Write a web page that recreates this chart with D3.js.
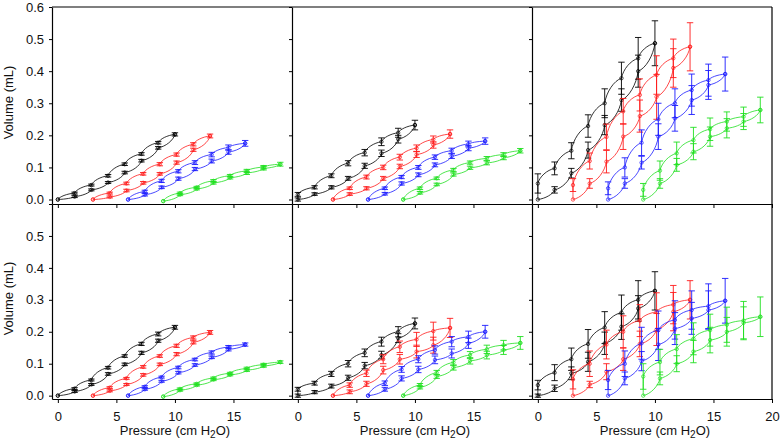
<!DOCTYPE html>
<html><head><meta charset="utf-8">
<script src="https://cdn.jsdelivr.net/npm/d3@7"></script>
<style>body{margin:0;background:#fff} svg{display:block} text{font-family:Arial,"Liberation Sans",sans-serif;}</style>
</head><body><svg id="c" width="780" height="445"></svg>
<script>
const seriesColors = ["#000000", "#ff1a1a", "#1a1aff", "#1fe01f"];
const startPressures = [0, 3, 6, 9];
const pressureOffsets = [0, 1.43, 2.86, 4.29, 5.71, 7.14, 8.57, 10];
const xTickValues = [0, 5, 10, 15];
const xTickValuesRight = [0, 5, 10, 15, 20];
const yTickValues = [0, 0.1, 0.2, 0.3, 0.4, 0.5, 0.6];
const yTickLabelsTop = ["0.0", "0.1", "0.2", "0.3", "0.4", "0.5", "0.6"];
const yTickLabelsBottom = ["0.0", "0.1", "0.2", "0.3", "0.4", "0.5", ""];

// Panel A (top-left): inflation (lower) and deflation (upper) volumes, per series black/red/blue/green
const A_inf = [
  [0, 0.009, 0.03, 0.053, 0.084, 0.121, 0.161, 0.203],
  [0, 0.008, 0.028, 0.052, 0.08, 0.115, 0.155, 0.198],
  [0, 0.015, 0.038, 0.065, 0.095, 0.12, 0.148, 0.175],
  [-0.005, 0.015, 0.033, 0.052, 0.068, 0.083, 0.097, 0.11]];
const A_def = [
  [0, 0.02, 0.045, 0.074, 0.11, 0.142, 0.177, 0.203],
  [0, 0.02, 0.05, 0.08, 0.11, 0.14, 0.172, 0.198],
  [0, 0.025, 0.058, 0.088, 0.115, 0.14, 0.162, 0.175],
  [-0.005, 0.02, 0.038, 0.058, 0.074, 0.089, 0.101, 0.11]];
const A_infErr = [
  [0, 0.003, 0.003, 0.003, 0.004, 0.004, 0.004, 0.005],
  [0, 0.003, 0.004, 0.004, 0.004, 0.005, 0.005, 0.006],
  [0, 0.004, 0.004, 0.005, 0.005, 0.006, 0.007, 0.009],
  [0, 0.003, 0.003, 0.004, 0.004, 0.005, 0.005, 0.006]];
const A_defErr = [
  [0, 0.003, 0.003, 0.004, 0.004, 0.004, 0.004, 0],
  [0, 0.003, 0.004, 0.004, 0.005, 0.005, 0.005, 0],
  [0, 0.004, 0.005, 0.005, 0.006, 0.007, 0.008, 0],
  [0, 0.003, 0.003, 0.004, 0.004, 0.005, 0.005, 0]];

// Panel B (top-middle)
const B_inf = [
  [0, 0.017, 0.038, 0.066, 0.105, 0.144, 0.188, 0.232],
  [0, 0.017, 0.035, 0.066, 0.103, 0.14, 0.17, 0.204],
  [0, 0.018, 0.05, 0.077, 0.108, 0.135, 0.16, 0.182],
  [0, 0.021, 0.047, 0.078, 0.099, 0.114, 0.13, 0.152]];
const B_def = [
  [0.016, 0.038, 0.074, 0.113, 0.146, 0.18, 0.208, 0.232],
  [0, 0.035, 0.07, 0.1, 0.132, 0.16, 0.187, 0.204],
  [0, 0.035, 0.07, 0.1, 0.132, 0.152, 0.173, 0.182],
  [0, 0.035, 0.066, 0.092, 0.115, 0.128, 0.14, 0.152]];
const B_infErr = [
  [0.005, 0.004, 0.005, 0.006, 0.008, 0.01, 0.012, 0.015],
  [0, 0.004, 0.005, 0.006, 0.007, 0.009, 0.01, 0.013],
  [0, 0.004, 0.005, 0.006, 0.006, 0.007, 0.008, 0.01],
  [0, 0.004, 0.004, 0.005, 0.005, 0.006, 0.006, 0.007]];
const B_defErr = [
  [0.006, 0.005, 0.006, 0.008, 0.01, 0.012, 0.014, 0],
  [0, 0.004, 0.006, 0.007, 0.009, 0.01, 0.011, 0],
  [0, 0.004, 0.005, 0.006, 0.007, 0.008, 0.009, 0],
  [0, 0.004, 0.004, 0.005, 0.005, 0.006, 0.006, 0]];

// Panel C (top-right)
const C_inf = [
  [0, 0.03, 0.082, 0.154, 0.232, 0.31, 0.4, 0.487],
  [0, 0.05, 0.118, 0.196, 0.26, 0.32, 0.41, 0.476],
  [0, 0.05, 0.115, 0.196, 0.253, 0.31, 0.357, 0.391],
  [0, 0.05, 0.108, 0.149, 0.196, 0.222, 0.243, 0.279]];
const C_def = [
  [0.05, 0.097, 0.152, 0.229, 0.3, 0.378, 0.44, 0.487],
  [0.045, 0.12, 0.195, 0.275, 0.326, 0.388, 0.44, 0.476],
  [0.035, 0.1, 0.177, 0.25, 0.3, 0.341, 0.372, 0.391],
  [0.03, 0.09, 0.144, 0.185, 0.219, 0.243, 0.258, 0.279]];
const C_infErr = [
  [0, 0.01, 0.015, 0.025, 0.03, 0.035, 0.05, 0.07],
  [0, 0.015, 0.035, 0.04, 0.05, 0.07, 0.06, 0.075],
  [0, 0.015, 0.02, 0.04, 0.04, 0.045, 0.045, 0.053],
  [0, 0.015, 0.02, 0.025, 0.03, 0.03, 0.025, 0.04]];
const C_defErr = [
  [0.03, 0.02, 0.025, 0.035, 0.045, 0.05, 0.065, 0],
  [0.02, 0.025, 0.04, 0.04, 0.05, 0.06, 0.06, 0],
  [0.02, 0.03, 0.04, 0.05, 0.045, 0.05, 0.05, 0],
  [0.02, 0.03, 0.035, 0.04, 0.035, 0.03, 0.03, 0]];

// Panel D (bottom-left)
const D_inf = [
  [0, 0.013, 0.035, 0.068, 0.098, 0.134, 0.172, 0.214],
  [0, 0.015, 0.035, 0.065, 0.098, 0.13, 0.167, 0.198],
  [0, 0.02, 0.045, 0.072, 0.096, 0.12, 0.145, 0.16],
  [-0.003, 0.017, 0.033, 0.05, 0.065, 0.08, 0.093, 0.105]];
const D_def = [
  [0, 0.022, 0.049, 0.0875, 0.124, 0.162, 0.193, 0.214],
  [0, 0.025, 0.054, 0.09, 0.124, 0.156, 0.182, 0.198],
  [0, 0.028, 0.058, 0.088, 0.113, 0.135, 0.152, 0.16],
  [-0.003, 0.021, 0.037, 0.055, 0.07, 0.085, 0.097, 0.105]];
const D_infErr = [
  [0, 0.003, 0.003, 0.004, 0.004, 0.005, 0.005, 0.006],
  [0, 0.003, 0.003, 0.004, 0.004, 0.005, 0.005, 0.006],
  [0, 0.003, 0.003, 0.004, 0.004, 0.004, 0.005, 0.005],
  [0, 0.003, 0.003, 0.003, 0.003, 0.004, 0.004, 0.004]];
const D_defErr = [
  [0, 0.003, 0.003, 0.004, 0.004, 0.005, 0.006, 0],
  [0, 0.003, 0.003, 0.004, 0.004, 0.005, 0.005, 0],
  [0, 0.003, 0.003, 0.004, 0.004, 0.005, 0.005, 0],
  [0, 0.003, 0.003, 0.003, 0.003, 0.004, 0.004, 0]];

// Panel E (bottom-middle)
const E_inf = [
  [0, 0.011, 0.03, 0.056, 0.094, 0.127, 0.18, 0.226],
  [0, 0.012, 0.037, 0.08, 0.114, 0.138, 0.158, 0.212],
  [0, 0.02, 0.054, 0.082, 0.112, 0.132, 0.164, 0.2],
  [0, 0.026, 0.06, 0.088, 0.109, 0.127, 0.143, 0.165]];
const E_def = [
  [0.02, 0.039, 0.068, 0.1, 0.134, 0.169, 0.2, 0.226],
  [0, 0.033, 0.07, 0.114, 0.153, 0.176, 0.202, 0.212],
  [0, 0.039, 0.082, 0.114, 0.143, 0.169, 0.184, 0.2],
  [0, 0.033, 0.072, 0.104, 0.127, 0.145, 0.158, 0.165]];
const E_infErr = [
  [0.005, 0.005, 0.006, 0.008, 0.01, 0.012, 0.014, 0.017],
  [0, 0.006, 0.008, 0.012, 0.015, 0.02, 0.025, 0.03],
  [0, 0.006, 0.008, 0.01, 0.012, 0.014, 0.016, 0.02],
  [0, 0.005, 0.006, 0.008, 0.01, 0.012, 0.014, 0.02]];
const E_defErr = [
  [0.006, 0.006, 0.008, 0.01, 0.012, 0.014, 0.016, 0],
  [0, 0.007, 0.01, 0.014, 0.018, 0.022, 0.028, 0],
  [0, 0.007, 0.009, 0.011, 0.013, 0.016, 0.018, 0],
  [0, 0.005, 0.007, 0.009, 0.011, 0.013, 0.015, 0]];

// Panel F (bottom-right)
const F_inf = [
  [0, 0.023, 0.07, 0.106, 0.164, 0.216, 0.273, 0.328],
  [0, 0.035, 0.075, 0.114, 0.162, 0.207, 0.263, 0.3],
  [0, 0.054, 0.108, 0.16, 0.21, 0.242, 0.268, 0.297],
  [0, 0.054, 0.1, 0.138, 0.174, 0.2, 0.228, 0.247]];
const F_def = [
  [0.033, 0.072, 0.114, 0.162, 0.213, 0.26, 0.3, 0.328],
  [0.051, 0.1, 0.16, 0.2, 0.235, 0.262, 0.285, 0.3],
  [0.049, 0.1, 0.164, 0.205, 0.237, 0.268, 0.28, 0.297],
  [0.06, 0.105, 0.146, 0.178, 0.205, 0.222, 0.235, 0.247]];
const F_infErr = [
  [0.005, 0.01, 0.02, 0.03, 0.035, 0.04, 0.04, 0.06],
  [0, 0.01, 0.025, 0.035, 0.04, 0.05, 0.06, 0.06],
  [0, 0.02, 0.03, 0.05, 0.05, 0.05, 0.06, 0.07],
  [0, 0.02, 0.025, 0.035, 0.04, 0.045, 0.05, 0.062]];
const F_defErr = [
  [0.015, 0.025, 0.035, 0.045, 0.05, 0.055, 0.06, 0],
  [0.03, 0.04, 0.045, 0.05, 0.05, 0.06, 0.06, 0],
  [0.03, 0.04, 0.05, 0.06, 0.06, 0.06, 0.07, 0],
  [0.04, 0.04, 0.045, 0.05, 0.05, 0.055, 0.06, 0]];

const panels = [
  {inf: A_inf, def: A_def, ie: A_infErr, de: A_defErr, col: 0, row: 0},
  {inf: B_inf, def: B_def, ie: B_infErr, de: B_defErr, col: 1, row: 0},
  {inf: C_inf, def: C_def, ie: C_infErr, de: C_defErr, col: 2, row: 0},
  {inf: D_inf, def: D_def, ie: D_infErr, de: D_defErr, col: 0, row: 1},
  {inf: E_inf, def: E_def, ie: E_infErr, de: E_defErr, col: 1, row: 1},
  {inf: F_inf, def: F_def, ie: F_infErr, de: F_defErr, col: 2, row: 1}
];

const svg = d3.select("#c");
const colX = [52, 292, 532];
const panelW = 240;
const rows = [
  {top: 7, bottom: 204, dom: [-0.014, 0.6]},
  {top: 204, bottom: 399, dom: [-0.0105, 0.6]}
];

function curvePath(xs, ys, kind) {
  const p = d3.path();
  p.moveTo(xs[0], ys[0]);
  for (let i = 1; i < xs.length; i++) {
    const x0 = xs[i-1], y0 = ys[i-1], x1 = xs[i], y1 = ys[i];
    const dx = x1 - x0, dy = y1 - y0;
    let c1x, c1y, c2x, c2y;
    if (kind === "inf") {
      c1x = x0 + 0.45*dx; c1y = y0 + 0.1*dy; c2x = x1 - 0.1*dx; c2y = y1 - 0.45*dy;
    } else {
      c1x = x0 + 0.1*dx; c1y = y0 + 0.45*dy; c2x = x1 - 0.45*dx; c2y = y1 - 0.1*dy;
    }
    p.bezierCurveTo(c1x, c1y, c2x, c2y, x1, y1);
  }
  return p.toString();
}

panels.forEach(pn => {
  const r = rows[pn.row];
  const x0 = colX[pn.col];
  const x = d3.scaleLinear().domain([-0.5, 20]).range([x0, x0 + panelW]);
  const y = d3.scaleLinear().domain(r.dom).range([r.bottom, r.top]);
  const g = svg.append("g");

  const ya = d3.axisLeft(y).tickValues(yTickValues).tickSize(3).tickSizeOuter(0).tickPadding(5)
    .tickFormat((d, i) => pn.col === 0 ? (pn.row === 0 ? yTickLabelsTop[i] : yTickLabelsBottom[i]) : "");
  const yg = g.append("g").attr("transform", `translate(${x0},0)`).call(ya);
  const xa = d3.axisBottom(x).tickValues(pn.col === 2 ? xTickValuesRight : xTickValues).tickSize(4).tickSizeOuter(0).tickPadding(9)
    .tickFormat(d => pn.row === 1 ? String(d) : "");
  const xg = g.append("g").attr("transform", `translate(0,${r.bottom})`).call(xa);
  [yg, xg].forEach(ax => {
    ax.selectAll("path.domain").attr("stroke", "#000").attr("stroke-width", 1.2);
    ax.selectAll(".tick line").attr("stroke", "#000");
    ax.selectAll("text").attr("font-size", 13).attr("fill", "#111")
      .style("font-family", "Arial, 'Liberation Sans', sans-serif");
  });
  if (pn.row === 0) {
    g.append("line").attr("x1", x0).attr("x2", x0 + panelW).attr("y1", r.top).attr("y2", r.top)
      .attr("stroke", "#000").attr("stroke-width", 1.2);
  }
  if (pn.col === 2) {
    g.append("line").attr("x1", x0 + panelW).attr("x2", x0 + panelW).attr("y1", r.top).attr("y2", r.bottom)
      .attr("stroke", "#000").attr("stroke-width", 1.2);
  }
  if (pn.row === 1) {
    g.append("text").attr("x", x(10)).attr("y", 435).attr("text-anchor", "middle").attr("font-size", 13).attr("fill", "#111")
      .call(t => {
        t.append("tspan").text("Pressure (cm H");
        t.append("tspan").attr("font-size", 10).attr("dy", 3).text("2");
        t.append("tspan").attr("dy", -3).text("O)");
      });
  }
  if (pn.col === 0) {
    g.append("text").attr("transform", `translate(13,${(r.top + r.bottom) / 2 - 3}) rotate(-90)`)
      .attr("text-anchor", "middle").attr("font-size", 13).attr("fill", "#111").text("Volume (mL)");
  }

  for (let s = 0; s < 4; s++) {
    const col = seriesColors[s];
    const ps = pressureOffsets.map(o => startPressures[s] + o);
    const xs = ps.map(p => x(p));
    const yi = pn.inf[s].map(v => y(v));
    const yd = pn.def[s].map(v => y(v));
    const sg = g.append("g");
    sg.append("path").attr("d", curvePath(xs, yi, "inf")).attr("fill", "none").attr("stroke", col).attr("stroke-width", 0.8);
    sg.append("path").attr("d", curvePath([xs[0]].concat(xs), [yi[0]].concat(yd), "def")).attr("fill", "none").attr("stroke", col).attr("stroke-width", 0.8);
    const pts = [];
    ps.forEach((p, i) => {
      pts.push({p: p, v: pn.inf[s][i], e: pn.ie[s][i]});
      pts.push({p: p, v: pn.def[s][i], e: pn.de[s][i]});
    });
    pts.forEach(d => {
      if (d.e > 0) {
        const cx = x(d.p), yt = y(d.v + d.e), yb = y(d.v - d.e);
        sg.append("line").attr("x1", cx).attr("x2", cx).attr("y1", yt).attr("y2", yb).attr("stroke", col).attr("stroke-width", 0.9);
        [yt, yb].forEach(yy => sg.append("line").attr("x1", cx - 3.2).attr("x2", cx + 3.2).attr("y1", yy).attr("y2", yy).attr("stroke", col).attr("stroke-width", 0.9));
      }
      sg.append("circle").attr("cx", x(d.p)).attr("cy", y(d.v)).attr("r", 1.7).attr("fill", "none").attr("stroke", col).attr("stroke-width", 0.7);
    });
  }
});
</script></body></html>
